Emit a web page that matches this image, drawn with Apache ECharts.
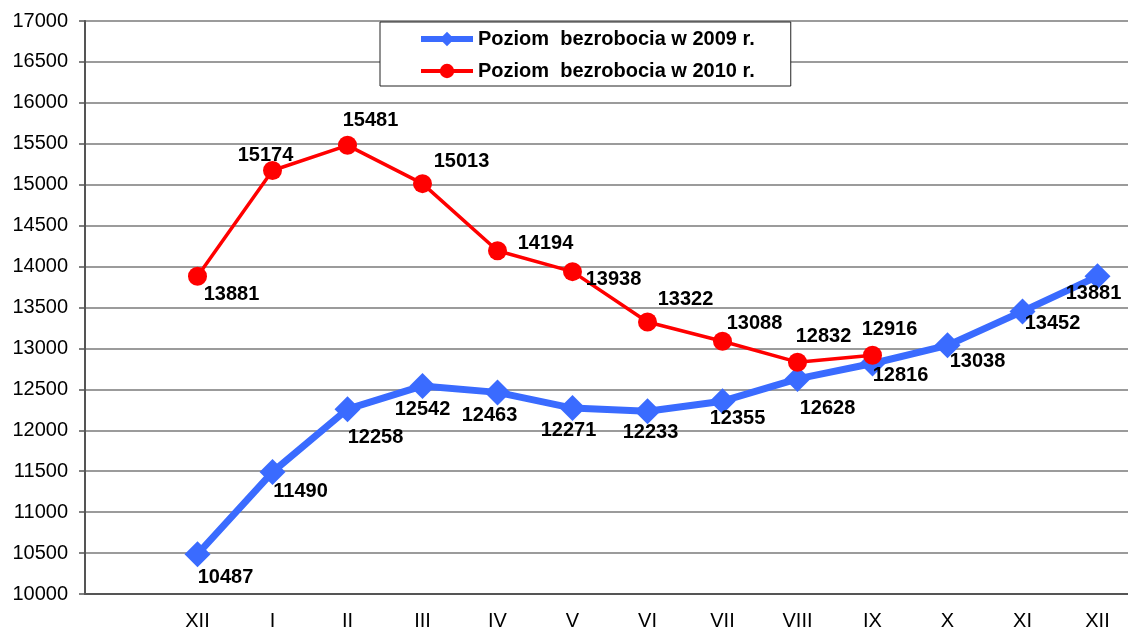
<!DOCTYPE html>
<html>
<head>
<meta charset="utf-8">
<script src="https://cdn.jsdelivr.net/npm/echarts@6/dist/echarts.min.js"></script>
<style>
  html, body { margin: 0; padding: 0; background: #fff; }
  #chart { width: 1128px; height: 630px; }
</style>
</head>
<body>
<div id="chart"></div>
<script>
// months, first slot is left empty like in the original sheet
const months = ['', 'XII', 'I', 'II', 'III', 'IV', 'V', 'VI', 'VII', 'VIII', 'IX', 'X', 'XI', 'XII']
const unemployment2009 = [null, 10487, 11490, 12258, 12542, 12463, 12271, 12233, 12355, 12628, 12816, 13038, 13452, 13881]
const unemployment2010 = [null, 13881, 15174, 15481, 15013, 14194, 13938, 13322, 13088, 12832, 12916, null, null, null]
const yTicks = { min: 10000, max: 17000, step: 500 }

// label offsets from the point, in px
const offsets2009 = [null, [28, 23], [28, 19], [28, 28], [0, 24], [-8, 23], [-4, 22], [3, 21], [15, 17], [30, 30], [28, 12], [30, 16], [30, 12], [-4, 17]]
const offsets2010 = [null, [34, 18], [-7, -15], [23, -25], [39, -22], [48, -7], [41, 8], [38, -23], [32, -18], [26, -26], [17, -26]]

const font = 'Liberation Sans, Arial, sans-serif'
const name2009 = 'Poziom  bezrobocia w 2009 r.'
const name2010 = 'Poziom  bezrobocia w 2010 r.'

function withLabels (values, offsets) {
  return values.map((v, i) => {
    if (v == null) return null
    return { value: v, label: { offset: offsets[i] } }
  })
}

const labelStyle = {
  show: true,
  position: 'inside',
  fontFamily: font,
  fontSize: 20,
  fontWeight: 'bold',
  color: '#000'
}

const chart = echarts.init(document.getElementById('chart'), null, { renderer: 'canvas' })
chart.setOption({
  animation: false,
  backgroundColor: '#fff',
  textStyle: { fontFamily: font },
  grid: { left: 85, top: 21, height: 573, width: 1050, outerBoundsMode: 'none', containLabel: false },
  legend: {
    left: 380,
    top: 22,
    orient: 'vertical',
    backgroundColor: '#fff',
    borderColor: '#222',
    borderWidth: 1,
    borderRadius: 0,
    padding: [7, 36, 5, 38],
    itemGap: 12,
    itemWidth: 52,
    itemHeight: 18,
    textStyle: { fontFamily: font, fontSize: 20, fontWeight: 'bold', color: '#000' },
    data: [
      { name: name2009, lineStyle: { width: 6 } },
      { name: name2010, lineStyle: { width: 4 } }
    ]
  },
  xAxis: {
    type: 'category',
    data: months,
    boundaryGap: true,
    axisLine: { lineStyle: { color: '#555', width: 2 } },
    axisTick: { length: 6, lineStyle: { color: '#555', width: 1.5 } },
    axisLabel: { fontFamily: font, fontSize: 20, color: '#000', margin: 17, interval: 0 },
    splitLine: { show: false }
  },
  yAxis: {
    type: 'value',
    min: yTicks.min,
    max: yTicks.max,
    interval: yTicks.step,
    axisLine: { show: true, lineStyle: { color: '#555', width: 2 } },
    axisTick: { show: true, length: 6, lineStyle: { color: '#555', width: 1.5 } },
    axisLabel: { fontFamily: font, fontSize: 20, color: '#000', margin: 17, formatter: v => String(v) },
    splitLine: { lineStyle: { color: '#7a7a7a', width: 1.5 } }
  },
  series: [
    {
      name: name2009,
      type: 'line',
      data: withLabels(unemployment2009, offsets2009),
      symbol: 'diamond',
      symbolSize: 26,
      itemStyle: { color: '#3a6bff' },
      lineStyle: { color: '#3a6bff', width: 7 },
      label: labelStyle,
      z: 2
    },
    {
      name: name2010,
      type: 'line',
      data: withLabels(unemployment2010, offsets2010),
      symbol: 'circle',
      symbolSize: 19,
      itemStyle: { color: '#ff0000' },
      lineStyle: { color: '#ff0000', width: 3.5 },
      label: labelStyle,
      z: 3
    }
  ]
})
</script>
</body>
</html>
